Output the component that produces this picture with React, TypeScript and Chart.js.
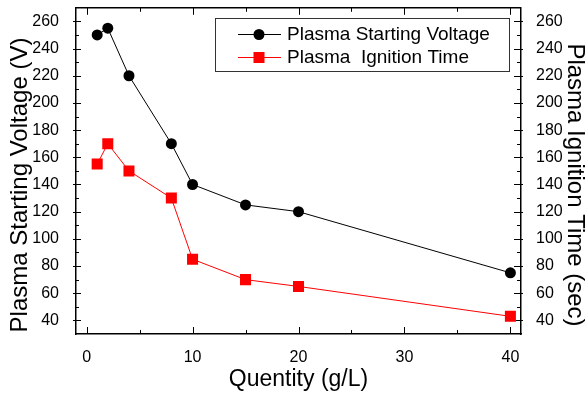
import React, { useEffect, useRef } from 'react';
import { Chart, registerables } from 'chart.js';

Chart.register(...registerables);

const quantity = [1, 2, 4, 8, 10, 15, 20, 40];
const startingVoltage = [250, 255, 220, 170, 140, 125, 120, 75];
const ignitionTime = [155, 170, 150, 130, 85, 70, 65, 43];
const xTicks = [0, 10, 20, 30, 40];
const yTicks = [40, 60, 80, 100, 120, 140, 160, 180, 200, 220, 240, 260];
const seriesLabels = ['Plasma Starting Voltage', 'Plasma  Ignition Time'];
const seriesColors = ['#000000', '#ff0000'];
const xTitle = 'Quentity (g/L)';
const yTitle = 'Plasma Starting Voltage (V)';
const y1Title = 'Plasma Ignition Time (sec)';

const FONT = "'Liberation Sans', Arial, sans-serif";

export default function App() {
  const ref = useRef<HTMLCanvasElement>(null);

  useEffect(() => {
    document.body.style.margin = '0';
    const canvas = ref.current!;

    const frame = {
      id: 'frame',
      beforeDatasetsDraw(chart: any) {
        const { ctx } = chart;
        const { left, right, top, bottom } = chart.chartArea;
        const xs = chart.scales.x;
        const ys = chart.scales.y;
        ctx.save();
        ctx.strokeStyle = '#000';
        ctx.lineWidth = 1.5;
        ctx.beginPath();
        ctx.moveTo(left, top);
        ctx.lineTo(right, top);
        ctx.stroke();
        ctx.lineWidth = 1;
        ctx.beginPath();
        xTicks.forEach((v) => {
          const px = Math.round(xs.getPixelForValue(v)) + 0.5;
          ctx.moveTo(px, bottom);
          ctx.lineTo(px, bottom - 7);
          ctx.moveTo(px, top);
          ctx.lineTo(px, top + 7);
          const m = v + 5;
          if (m < xs.max) {
            const pm = Math.round(xs.getPixelForValue(m)) + 0.5;
            ctx.moveTo(pm, bottom);
            ctx.lineTo(pm, bottom - 4);
            ctx.moveTo(pm, top);
            ctx.lineTo(pm, top + 4);
          }
        });
        yTicks.forEach((v) => {
          const py = Math.round(ys.getPixelForValue(v)) + 0.5;
          ctx.moveTo(left - 3, py);
          ctx.lineTo(left + 5, py);
          ctx.moveTo(right - 7, py);
          ctx.lineTo(right + 2, py);
          const m = v + 10;
          if (m < ys.max) {
            const pm = Math.round(ys.getPixelForValue(m)) + 0.5;
            ctx.moveTo(left, pm);
            ctx.lineTo(left + 3, pm);
            ctx.moveTo(right, pm);
            ctx.lineTo(right - 4, pm);
          }
        });
        ctx.stroke();
        ctx.restore();
      },
      afterDraw(chart: any) {
        const { ctx } = chart;
        ctx.save();
        // legend
        const bx = 215, by = 18, bw = 294, bh = 53;
        ctx.strokeStyle = '#333';
        ctx.lineWidth = 1;
        ctx.strokeRect(bx + 0.5, by + 0.5, bw, bh);
        const rows = [34, 57];
        rows.forEach((ry, i) => {
          ctx.strokeStyle = seriesColors[i];
          ctx.fillStyle = seriesColors[i];
          ctx.lineWidth = 1;
          ctx.beginPath();
          ctx.moveTo(238, ry + 0.5);
          ctx.lineTo(281, ry + 0.5);
          ctx.stroke();
          ctx.beginPath();
          if (i === 0) {
            ctx.arc(259, ry + 0.5, 5.5, 0, Math.PI * 2);
            ctx.fill();
          } else {
            ctx.fillRect(253.5, ry - 5, 11, 11);
          }
          ctx.fillStyle = '#000';
          ctx.font = `19px ${FONT}`;
          ctx.textBaseline = 'middle';
          ctx.textAlign = 'left';
          ctx.fillText(seriesLabels[i], 287, ry + 1);
        });
        // vertical axis titles
        ctx.fillStyle = '#000';
        ctx.font = `24px ${FONT}`;
        ctx.textAlign = 'center';
        ctx.textBaseline = 'alphabetic';
        ctx.save();
        ctx.translate(27, 185);
        ctx.rotate(-Math.PI / 2);
        ctx.fillText(yTitle, 0, 0);
        ctx.restore();
        ctx.save();
        ctx.translate(568, 185);
        ctx.rotate(Math.PI / 2);
        ctx.fillText(y1Title, 0, 0);
        ctx.restore();
        ctx.restore();
      },
    };

    const tickFont = { family: FONT, size: 16 };
    const titleFont = { family: FONT, size: 23, lineHeight: 1.2 };

    const chart = new Chart(canvas, {
      type: 'line',
      data: {
        datasets: [
          {
            label: seriesLabels[0],
            data: quantity.map((x, i) => ({ x, y: startingVoltage[i] })),
            borderColor: seriesColors[0],
            backgroundColor: seriesColors[0],
            borderWidth: 1,
            pointStyle: 'circle',
            pointRadius: 5.5,
            pointBorderWidth: 0,
            yAxisID: 'y',
          },
          {
            label: seriesLabels[1],
            data: quantity.map((x, i) => ({ x, y: ignitionTime[i] })),
            borderColor: seriesColors[1],
            backgroundColor: seriesColors[1],
            borderWidth: 1,
            pointStyle: 'rect',
            pointRadius: 7.8,
            pointBorderWidth: 0,
            yAxisID: 'y',
          },
        ],
      },
      options: {
        responsive: false,
        animation: false,
        layout: { padding: { top: 7, left: 0, right: 0, bottom: 0 } },
        plugins: { legend: { display: false }, tooltip: { enabled: false } },
        scales: {
          x: {
            type: 'linear',
            min: -1,
            max: 41,
            afterBuildTicks: (s: any) => {
              s.ticks = xTicks.map((v) => ({ value: v }));
            },
            afterFit: (s: any) => {
              s.height = 59;
              s.paddingLeft = 0;
              s.paddingRight = 0;
            },
            grid: { display: false },
            border: { display: true, color: '#000', width: 1.5 },
            ticks: { font: tickFont, color: '#000', padding: 6, maxRotation: 0, autoSkip: false },
            title: {
              display: true,
              text: xTitle,
              font: titleFont,
              color: '#000',
              padding: { top: 0, bottom: 0 },
            },
          },
          y: {
            type: 'linear',
            position: 'left',
            min: 30,
            max: 270,
            afterBuildTicks: (s: any) => {
              s.ticks = yTicks.map((v) => ({ value: v }));
            },
            afterFit: (s: any) => {
              s.width = 76;
              s.paddingTop = 0;
              s.paddingBottom = 0;
            },
            grid: { display: false },
            border: { display: true, color: '#000', width: 1.5 },
            ticks: { font: tickFont, color: '#000', padding: 9, autoSkip: false },
            title: { display: false },
          },
          y1: {
            type: 'linear',
            position: 'right',
            min: 30,
            max: 270,
            afterBuildTicks: (s: any) => {
              s.ticks = yTicks.map((v) => ({ value: v }));
            },
            afterFit: (s: any) => {
              s.width = 65;
              s.paddingTop = 0;
              s.paddingBottom = 0;
            },
            grid: { display: false },
            border: { display: true, color: '#000', width: 1.5 },
            ticks: { font: tickFont, color: '#000', padding: 7, autoSkip: false },
            title: { display: false },
          },
        },
      },
      plugins: [frame],
    } as any);

    return () => chart.destroy();
  }, []);

  return <canvas ref={ref} width={586} height={393} style={{ display: 'block' }} />;
}
